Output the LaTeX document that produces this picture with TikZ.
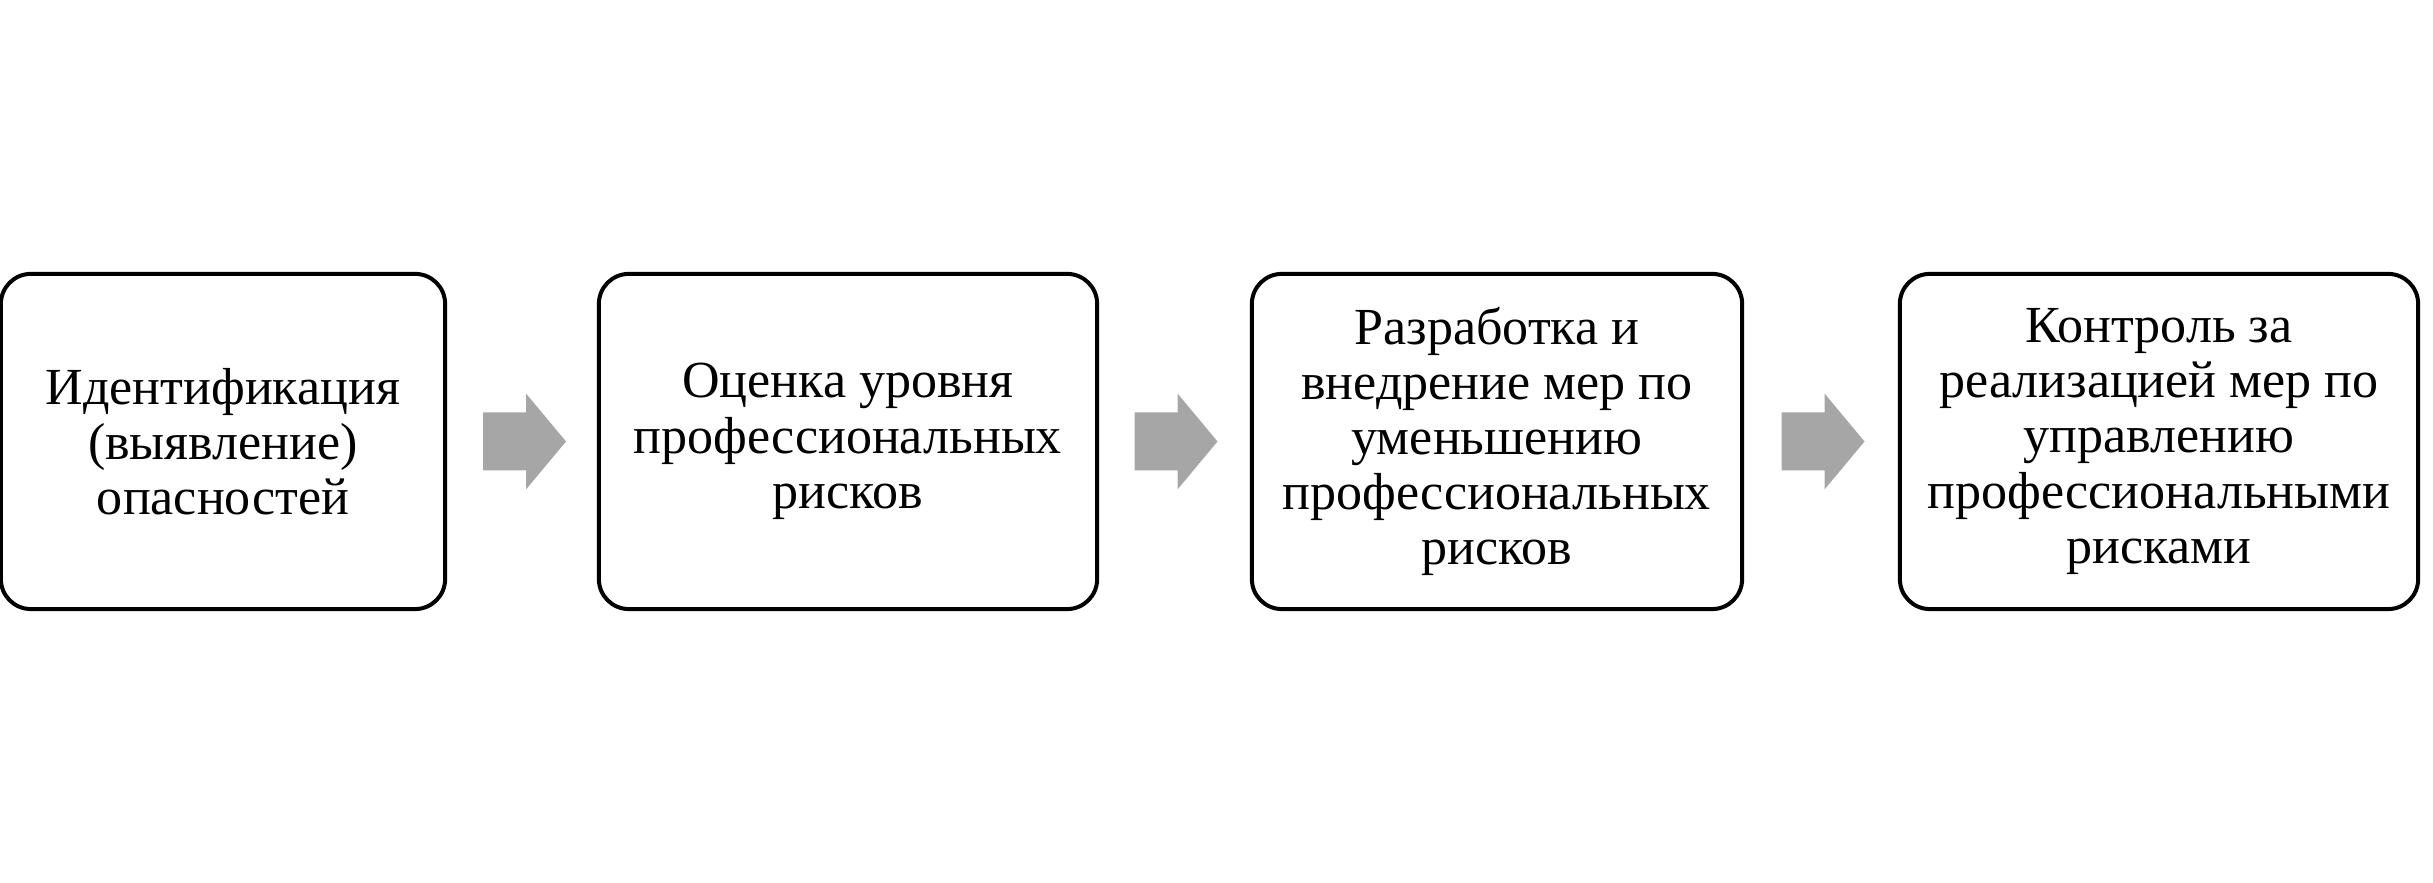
\documentclass[tikz,border=0pt]{standalone}
\usepackage{fontspec}
\setmainfont{Liberation Serif}
\definecolor{arrowgray}{HTML}{A6A6A6}
\begin{document}
\begin{tikzpicture}[x=0.01cm,y=0.01cm,
  stepbox/.style={draw=black, line width=0.04cm, rounded corners=0.3cm, fill=white,
    minimum height=3.35cm, inner sep=0pt, outer sep=0pt, align=center,
    font=\fontsize{14.8}{15.7}\selectfont},
  blockarrow/.style={fill=arrowgray, draw=none}]
\useasboundingbox (0,0) rectangle (2433,883);
\node[stepbox, minimum width=4.44cm] (b1) at (223,441.5) {Идентификация\\(выявление)\\опасностей};
\node[stepbox, minimum width=4.98cm] (b2) at (848,441.5) {Оценка уровня\\профессиональных\\рисков};
\node[stepbox, minimum width=4.90cm] (b3) at (1497,441.5) {Разработка и\\внедрение мер по\\уменьшению\\профессиональных\\рисков};
\node[stepbox, minimum width=5.18cm] (b4) at (2159,441.5) {Контроль за\\реализацией мер по\\управлению\\профессиональными\\рисками};
\foreach \cx in {524.5,1176,1823}{
  \fill[blockarrow] (\cx-41.5,441.5-29) -- (\cx+1.5,441.5-29) -- (\cx+1.5,441.5-48)
    -- (\cx+41.5,441.5) -- (\cx+1.5,441.5+48) -- (\cx+1.5,441.5+29) -- (\cx-41.5,441.5+29) -- cycle;
}
\end{tikzpicture}
\end{document}
